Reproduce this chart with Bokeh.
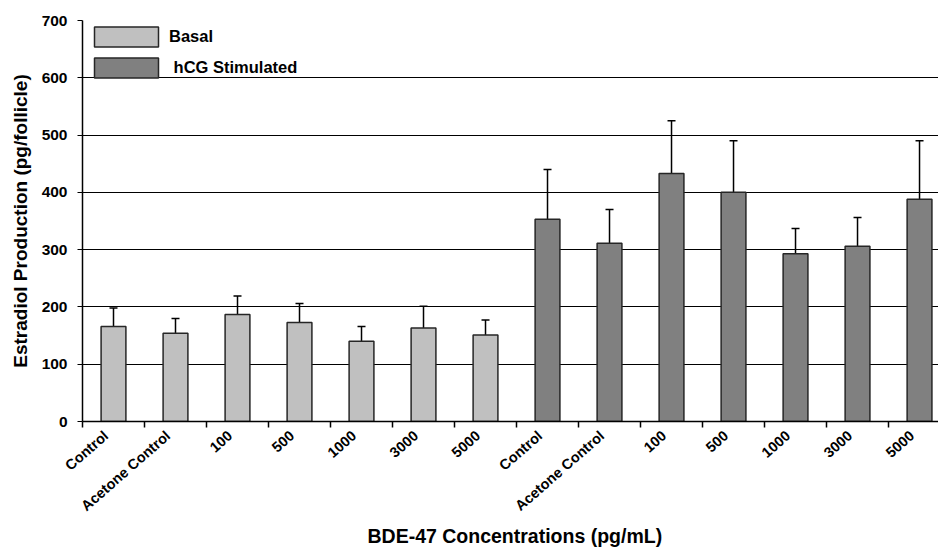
import numpy as np
from bokeh.plotting import figure
from bokeh.models import (Range1d, FixedTicker, Legend, LegendItem, Title,
                          ColumnDataSource)
from bokeh.embed import file_html
from bokeh.resources import INLINE

# ---- data ----
categories = ["Control", "Acetone Control", "100", "500", "1000", "3000", "5000"]
basal_mean = [166, 154, 187, 173, 140, 163, 151]
basal_err = [32, 26, 32, 33, 26, 38, 26]
hcg_mean = [353, 311, 433, 400, 293, 306, 388]
hcg_err = [87, 59, 92, 90, 44, 50, 102]
y_ticks = [0, 100, 200, 300, 400, 500, 600, 700]
series_names = ["Basal", " hCG Stimulated"]
x_title = "BDE-47 Concentrations (pg/mL)"
y_title = "Estradiol Production (pg/follicle)"

FONT = "Liberation Sans"
n = len(categories)
labels_all = categories + categories
x_basal = [i + 0.5 for i in range(n)]
x_hcg = [n + i + 0.5 for i in range(n)]
# label anchor slightly left of the bar centre, as in the original
label_pos = [x - 0.12 for x in x_basal + x_hcg]

p = figure(width=938, height=549, output_backend="svg", toolbar_location=None,
           x_range=Range1d(0, 13.806), y_range=Range1d(0, 700),
           min_border_left=82, min_border_top=20, min_border_right=0,
           min_border_bottom=128)
p.outline_line_color = None
p.background_fill_color = "white"

src_b = ColumnDataSource(dict(x=x_basal, top=basal_mean,
                              up=[m + e for m, e in zip(basal_mean, basal_err)]))
src_h = ColumnDataSource(dict(x=x_hcg, top=hcg_mean,
                              up=[m + e for m, e in zip(hcg_mean, hcg_err)]))

# error bars (upper only)
for src in (src_b, src_h):
    p.segment(x0="x", y0="top", x1="x", y1="up", source=src,
              line_color="black", line_width=1.5)
    p.dash(x="x", y="up", size=8, source=src, line_color="black",
           line_width=1.5)

rb = p.vbar(x="x", top="top", width=0.4, bottom=0, source=src_b,
            fill_color="#C0C0C0", line_color="#262626", line_width=1.5)
rh = p.vbar(x="x", top="top", width=0.4, bottom=0, source=src_h,
            fill_color="#808080", line_color="#262626", line_width=1.5)

# axes
xt = FixedTicker(ticks=label_pos, minor_ticks=list(range(0, 2 * n + 1)))
p.xaxis.ticker = xt
p.xaxis.major_label_overrides = {x: l for x, l in zip(label_pos, labels_all)}
p.xaxis.major_tick_line_color = None
p.xaxis.major_tick_out = 0
p.xaxis.major_tick_in = 0
p.xaxis.minor_tick_out = 6
p.xaxis.minor_tick_in = 0
p.xaxis.minor_tick_line_color = "black"
p.xaxis.minor_tick_line_width = 1.5
p.xaxis.axis_line_color = "black"
p.xaxis.axis_line_width = 1.5
p.xaxis.major_label_orientation = 0.72
p.xaxis.major_label_text_font = FONT
p.xaxis.major_label_text_font_style = "bold"
p.xaxis.major_label_text_font_size = "14.5px"
p.xaxis.major_label_text_color = "black"
p.xaxis.major_label_standoff = 6

p.yaxis.ticker = FixedTicker(ticks=y_ticks)
p.yaxis.minor_tick_line_color = None
p.yaxis.major_tick_out = 5
p.yaxis.major_tick_in = 0
p.yaxis.major_tick_line_color = "black"
p.yaxis.axis_line_color = "black"
p.yaxis.axis_line_width = 1.5
p.yaxis.major_label_text_font = FONT
p.yaxis.major_label_text_font_style = "bold"
p.yaxis.major_label_text_font_size = "15.5px"
p.yaxis.major_label_text_color = "black"
p.yaxis.major_label_standoff = 10
p.yaxis.axis_label = y_title
p.yaxis.axis_label_text_font = FONT
p.yaxis.axis_label_text_font_style = "bold"
p.yaxis.axis_label_text_font_size = "19px"
p.yaxis.axis_label_text_color = "black"
p.yaxis.axis_label_standoff = 8

p.xgrid.grid_line_color = None
p.ygrid.ticker = FixedTicker(ticks=y_ticks)
p.ygrid.grid_line_color = "black"
p.ygrid.grid_line_width = 1

# x axis title, centred on the full category span
t = Title(text=x_title, align="left", offset=285, standoff=0,
          text_font=FONT, text_font_style="bold", text_font_size="19.5px",
          text_color="black")
p.add_layout(t, "below")

legend = Legend(items=[LegendItem(label=series_names[0], renderers=[rb]),
                       LegendItem(label=series_names[1], renderers=[rh])],
                location="top_left", margin=4, padding=0, spacing=6,
                glyph_width=80, glyph_height=25, label_standoff=3,
                label_text_font=FONT, label_text_font_style="bold",
                label_text_font_size="16.5px", label_text_color="black",
                border_line_color=None, background_fill_alpha=0)
p.add_layout(legend)

open("out.html", "w").write(file_html(p, INLINE))
